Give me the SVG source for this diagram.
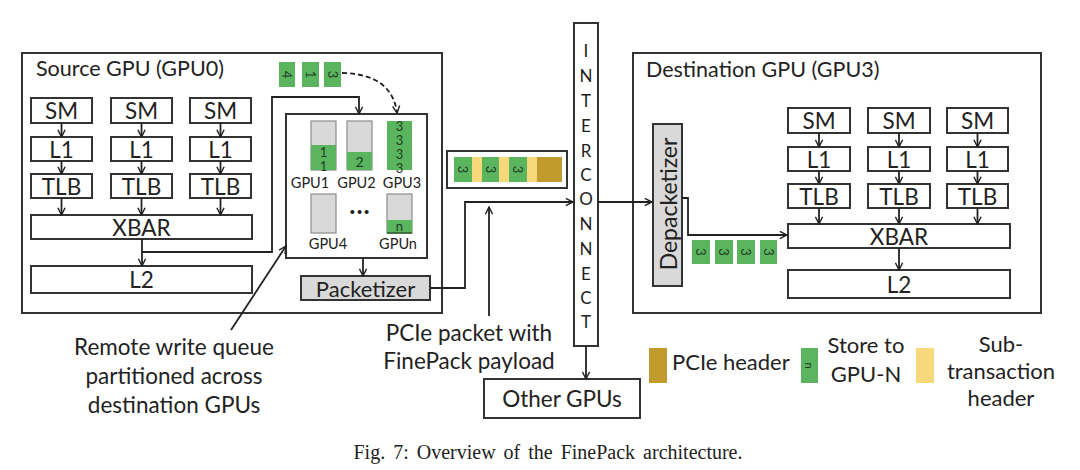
<svg xmlns="http://www.w3.org/2000/svg" width="1080" height="470" viewBox="0 0 1080 470">
<defs>
<marker id="ah" viewBox="0 0 10 10" refX="9" refY="5" markerWidth="9" markerHeight="9" markerUnits="userSpaceOnUse" orient="auto">
<path d="M1,1 L9,5 L1,9" fill="none" stroke="#222" stroke-width="1.6"/>
</marker>
<style>
text{font-family:Lato,"Open Sans","Liberation Sans",sans-serif;fill:#222}
.box{fill:#fff;stroke:#333;stroke-width:2}
.frame{fill:#fff;stroke:#333;stroke-width:2}
.gray{fill:#d9d9d9;stroke:#333;stroke-width:2}
.bar{fill:#d9d9d9;stroke:#8c8c8c;stroke-width:1.2}
.grn{fill:#5bb55f}
.yel{fill:#f7d97c}
.brn{fill:#c29b2f}
.lbl{font-size:22.5px;text-anchor:middle;dominant-baseline:central}
.leg{font-size:22px;text-anchor:middle;dominant-baseline:central}
.sm{font-size:14.5px;text-anchor:middle;dominant-baseline:central}
.num{font-size:13px;text-anchor:middle;dominant-baseline:central;fill:#1f3d1f}
.vnum{font-size:13px;text-anchor:middle;writing-mode:vertical-rl;text-orientation:upright;letter-spacing:-2px;fill:#1f3d1f}
.ic{font-size:17px;text-anchor:middle;dominant-baseline:central}
.ln{fill:none;stroke:#222;stroke-width:1.8}
.ar{fill:none;stroke:#222;stroke-width:1.8;marker-end:url(#ah)}
.cap{font-family:"Liberation Serif","Times New Roman",serif;font-size:20px;word-spacing:3px;text-anchor:middle}
.note{font-size:22.5px;text-anchor:middle;dominant-baseline:central}
.title{font-size:21.5px}
</style>
</defs>

<g id="source-gpu">
<rect class="frame" x="22" y="53" width="420" height="260"/>
<text class="title" x="36" y="76">Source GPU (GPU0)</text>
</g>
<g id="src-sm1"><rect class="box" x="31" y="98" width="61" height="25"/><text class="lbl" x="61.5" y="110.5">SM</text></g>
<g id="src-sm2"><rect class="box" x="111" y="98" width="61" height="25"/><text class="lbl" x="141.5" y="110.5">SM</text></g>
<g id="src-sm3"><rect class="box" x="190" y="98" width="61" height="25"/><text class="lbl" x="220.5" y="110.5">SM</text></g>
<g id="src-l1a"><rect class="box" x="31" y="137" width="61" height="24"/><text class="lbl" x="61.5" y="149">L1</text></g>
<g id="src-l1b"><rect class="box" x="111" y="137" width="61" height="24"/><text class="lbl" x="141.5" y="149">L1</text></g>
<g id="src-l1c"><rect class="box" x="190" y="137" width="61" height="24"/><text class="lbl" x="220.5" y="149">L1</text></g>
<g id="src-tlb1"><rect class="box" x="31" y="174" width="61" height="24"/><text class="lbl" x="61.5" y="186">TLB</text></g>
<g id="src-tlb2"><rect class="box" x="111" y="174" width="61" height="24"/><text class="lbl" x="141.5" y="186">TLB</text></g>
<g id="src-tlb3"><rect class="box" x="190" y="174" width="61" height="24"/><text class="lbl" x="220.5" y="186">TLB</text></g>
<g id="src-xbar"><rect class="box" x="31" y="215" width="221" height="24"/><text class="lbl" x="141.5" y="227">XBAR</text></g>
<g id="src-l2"><rect class="box" x="31" y="266" width="221" height="27"/><text class="lbl" x="141.5" y="279.5">L2</text></g>

<g id="incoming-stores">
<rect class="grn" x="279" y="62" width="16" height="25"/>
<text class="num" transform="translate(287,74.5) rotate(90)">4</text>
<rect class="grn" x="302" y="62" width="17" height="25"/>
<text class="num" transform="translate(310.5,74.5) rotate(90)">1</text>
<rect class="grn" x="324" y="62" width="17" height="25"/>
<text class="num" transform="translate(332.5,74.5) rotate(90)">3</text>
</g>

<g id="remote-write-queue">
<rect class="box" x="286" y="114" width="141" height="144"/>
<rect class="bar" x="311" y="121" width="25" height="49"/>
<rect class="grn" x="311" y="145" width="25" height="25"/>
<text class="vnum" x="323.5" y="157.5">11</text>
<rect class="bar" x="347" y="121" width="25" height="49"/>
<rect class="grn" x="347" y="152" width="25" height="18"/>
<text class="num" x="359.5" y="161" style="font-size:14px">2</text>
<rect class="grn" x="387" y="121" width="25" height="49"/>
<text class="vnum" x="399.5" y="145.5">3333</text>
<text class="sm" x="310" y="182">GPU1</text>
<text class="sm" x="356.5" y="182">GPU2</text>
<text class="sm" x="402" y="182">GPU3</text>
<rect class="bar" x="311" y="194" width="25" height="39"/>
<text x="360" y="214" style="font-size:26px;font-weight:bold;text-anchor:middle;letter-spacing:1px">...</text>
<rect class="bar" x="387" y="194" width="25" height="39"/>
<rect class="grn" x="387" y="220" width="25" height="13"/>
<line x1="387" y1="233" x2="412" y2="233" stroke="#2d5a2d" stroke-width="1.5"/>
<text class="num" x="399.5" y="226">n</text>
<text class="sm" x="328" y="243">GPU4</text>
<text class="sm" x="398" y="243">GPUn</text>
</g>

<g id="packetizer"><rect class="gray" x="301" y="276" width="129" height="24"/><text class="lbl" x="365.5" y="288" style="font-size:22px">Packetizer</text></g>

<g id="pcie-packet">
<rect class="box" x="447" y="151" width="120" height="37"/>
<rect class="grn" x="454" y="157" width="18" height="25"/>
<rect class="yel" x="472" y="157" width="10" height="25"/>
<rect class="grn" x="482" y="157" width="17" height="25"/>
<rect class="yel" x="499" y="157" width="10" height="25"/>
<rect class="grn" x="509" y="157" width="18" height="25"/>
<rect class="yel" x="527" y="157" width="10" height="25"/>
<rect class="brn" x="537" y="157" width="25" height="25"/>
<text class="num" transform="translate(463,169.5) rotate(90)">3</text>
<text class="num" transform="translate(490.5,169.5) rotate(90)">3</text>
<text class="num" transform="translate(518,169.5) rotate(90)">3</text>
</g>

<g id="interconnect">
<rect class="box" x="574" y="23" width="24" height="323"/>
<text class="ic" x="586" y="50">I</text>
<text class="ic" x="586" y="75">N</text>
<text class="ic" x="586" y="100">T</text>
<text class="ic" x="586" y="125">E</text>
<text class="ic" x="586" y="150">R</text>
<text class="ic" x="586" y="174">C</text>
<text class="ic" x="586" y="198">O</text>
<text class="ic" x="586" y="223">N</text>
<text class="ic" x="586" y="248">N</text>
<text class="ic" x="586" y="273">E</text>
<text class="ic" x="586" y="297">C</text>
<text class="ic" x="586" y="321">T</text>
</g>

<g id="other-gpus"><rect class="box" x="484" y="379" width="156" height="39"/><text class="lbl" x="562" y="398.5">Other GPUs</text></g>

<g id="destination-gpu">
<rect class="frame" x="633" y="53" width="408" height="260"/>
<text class="title" x="646" y="77">Destination GPU (GPU3)</text>
</g>
<g id="depacketizer"><rect class="gray" x="653" y="124" width="29" height="162"/><text class="lbl" transform="translate(667.5,204) rotate(-90)" style="font-size:23px">Depacketizer</text></g>
<g id="dst-sm1"><rect class="box" x="788" y="108" width="62" height="25"/><text class="lbl" x="819" y="120.5">SM</text></g>
<g id="dst-sm2"><rect class="box" x="868" y="108" width="62" height="25"/><text class="lbl" x="899" y="120.5">SM</text></g>
<g id="dst-sm3"><rect class="box" x="947" y="108" width="61" height="25"/><text class="lbl" x="977.5" y="120.5">SM</text></g>
<g id="dst-l1a"><rect class="box" x="788" y="147" width="62" height="24"/><text class="lbl" x="819" y="159">L1</text></g>
<g id="dst-l1b"><rect class="box" x="868" y="147" width="62" height="24"/><text class="lbl" x="899" y="159">L1</text></g>
<g id="dst-l1c"><rect class="box" x="947" y="147" width="61" height="24"/><text class="lbl" x="977.5" y="159">L1</text></g>
<g id="dst-tlb1"><rect class="box" x="788" y="184" width="62" height="24"/><text class="lbl" x="819" y="196">TLB</text></g>
<g id="dst-tlb2"><rect class="box" x="868" y="184" width="62" height="24"/><text class="lbl" x="899" y="196">TLB</text></g>
<g id="dst-tlb3"><rect class="box" x="947" y="184" width="61" height="24"/><text class="lbl" x="977.5" y="196">TLB</text></g>
<g id="dst-xbar"><rect class="box" x="788" y="224" width="222" height="24"/><text class="lbl" x="899" y="236">XBAR</text></g>
<g id="dst-l2"><rect class="box" x="788" y="270" width="222" height="28"/><text class="lbl" x="899" y="284">L2</text></g>

<g id="unpacked-stores">
<rect class="grn" x="692" y="240" width="18" height="24"/>
<rect class="grn" x="715" y="240" width="18" height="24"/>
<rect class="grn" x="737" y="240" width="18" height="24"/>
<rect class="grn" x="760" y="240" width="17" height="24"/>
<text class="num" transform="translate(701,252) rotate(90)">3</text>
<text class="num" transform="translate(724,252) rotate(90)">3</text>
<text class="num" transform="translate(746,252) rotate(90)">3</text>
<text class="num" transform="translate(768.5,252) rotate(90)">3</text>
</g>

<g id="connectors">
<line class="ar" x1="61.5" y1="123" x2="61.5" y2="137"/>
<line class="ar" x1="141.5" y1="123" x2="141.5" y2="137"/>
<line class="ar" x1="220.5" y1="123" x2="220.5" y2="137"/>
<line class="ar" x1="61.5" y1="161" x2="61.5" y2="174"/>
<line class="ar" x1="141.5" y1="161" x2="141.5" y2="174"/>
<line class="ar" x1="220.5" y1="161" x2="220.5" y2="174"/>
<line class="ar" x1="61.5" y1="198" x2="61.5" y2="215"/>
<line class="ar" x1="141.5" y1="198" x2="141.5" y2="215"/>
<line class="ar" x1="220.5" y1="198" x2="220.5" y2="215"/>
<line class="ar" x1="142" y1="239" x2="142" y2="266"/>
<path class="ar" d="M142,252 H272 V97 H359 V114"/>
<path class="ar" d="M342,73 Q392,74 397,113" stroke-dasharray="5,3"/>
<line class="ar" x1="363" y1="258" x2="363" y2="276"/>
<path class="ar" d="M430,288 H465 V202 H573"/>
<line class="ar" x1="231" y1="330" x2="286" y2="246"/>
<line class="ar" x1="489" y1="316" x2="489" y2="207"/>
<line class="ar" x1="586" y1="346" x2="586" y2="379"/>
<line class="ar" x1="598" y1="202" x2="652" y2="202"/>
<path class="ar" d="M682,198 H688 V235 H787"/>
<line class="ar" x1="819" y1="133" x2="819" y2="147"/>
<line class="ar" x1="899" y1="133" x2="899" y2="147"/>
<line class="ar" x1="977.5" y1="133" x2="977.5" y2="147"/>
<line class="ar" x1="819" y1="171" x2="819" y2="184"/>
<line class="ar" x1="899" y1="171" x2="899" y2="184"/>
<line class="ar" x1="977.5" y1="171" x2="977.5" y2="184"/>
<line class="ar" x1="819" y1="208" x2="819" y2="224"/>
<line class="ar" x1="899" y1="208" x2="899" y2="224"/>
<line class="ar" x1="977.5" y1="208" x2="977.5" y2="224"/>
<line class="ar" x1="899" y1="248" x2="899" y2="270"/>
</g>

<g id="annotations">
<text class="note" x="174" y="346">Remote write queue</text>
<text class="note" x="174" y="375">partitioned across</text>
<text class="note" x="174" y="404">destination GPUs</text>
<text class="note" x="469" y="332">PCIe packet with</text>
<text class="note" x="469" y="360">FinePack payload</text>
</g>

<g id="legend">
<rect class="brn" x="649" y="348" width="18" height="35"/>
<text x="672" y="361" style="font-size:22px;dominant-baseline:central">PCIe header</text>
<rect class="grn" x="801" y="348" width="17" height="35"/>
<text class="num" transform="translate(809.5,365.5) rotate(90)" style="font-size:11px">n</text>
<text class="leg" x="866" y="344">Store to</text>
<text class="leg" x="866" y="373">GPU-N</text>
<rect class="yel" x="916" y="348" width="18" height="35"/>
<text class="leg" x="1001" y="343">Sub-</text>
<text class="leg" x="1001" y="370">transaction</text>
<text class="leg" x="1001" y="397">header</text>
</g>

<text class="cap" x="548" y="459">Fig. 7: Overview of the FinePack architecture.</text>
</svg>
